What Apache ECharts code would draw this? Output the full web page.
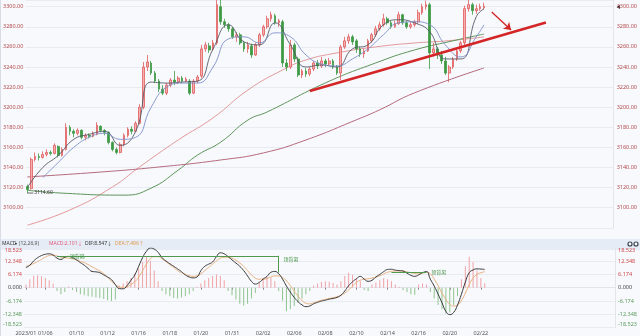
<!DOCTYPE html>
<html><head><meta charset="utf-8">
<script src="https://cdn.jsdelivr.net/npm/echarts@6/dist/echarts.min.js"></script>
<style>html,body{margin:0;padding:0;background:#f8f9fd}#c{width:640px;height:336px}</style>
</head><body><div id="c"></div><script>
// ---- data ----
const totalSlots = 152;
const tickIdx = [0,5,13,21,29,37,45,53,61,69,77,85,93,101,109,117];
const tickLabels = ['2023/01','01/06','01/10','01/12','01/16','01/18','01/20','01/31','02/02','02/06','02/08','02/10','02/14','02/16','02/20','02/22'];

const opens  = [3121,3119,3148,3151,3150,3153,3155,3154,3161,3152,3158,3180,3176,3174,3177,3170,3172,3171,3173,3181,3177,3175,3165,3158,3155,3163,3172,3178,3176,3184,3200,3240,3244,3234,3226,3218,3214,3222,3227,3225,3229,3226,3226,3214,3226,3231,3258,3261,3258,3264,3300,3285,3282,3278,3270,3272,3264,3258,3261,3252,3262,3272,3280,3288,3291,3284,3285,3244,3240,3262,3248,3232,3236,3233,3238,3244,3241,3246,3243,3246,3240,3234,3260,3266,3270,3266,3258,3253,3256,3266,3272,3278,3282,3288,3284,3280,3283,3292,3284,3280,3282,3285,3294,3300,3302,3254,3258,3252,3246,3234,3240,3248,3256,3264,3298,3302,3296,3298,3299];
const closes = [3118,3148,3151,3150,3153,3155,3154,3162,3152,3158,3180,3176,3174,3177,3170,3172,3171,3174,3182,3177,3175,3165,3158,3155,3163,3172,3178,3176,3184,3200,3240,3245,3234,3226,3218,3214,3222,3227,3225,3229,3226,3228,3214,3226,3230,3258,3262,3257,3264,3302,3285,3282,3278,3270,3272,3264,3258,3262,3252,3262,3272,3280,3288,3292,3284,3286,3244,3240,3262,3248,3232,3236,3233,3238,3244,3241,3246,3243,3246,3240,3234,3260,3266,3270,3265,3258,3253,3256,3266,3272,3278,3282,3288,3284,3280,3283,3292,3284,3280,3282,3285,3294,3300,3302,3254,3258,3252,3246,3234,3240,3248,3256,3264,3298,3302,3296,3298,3300,3300.4];
const lows   = [3114.6,3118,3146,3147,3149,3151,3152,3153,3150,3151,3157,3172,3170,3172,3168,3167,3169,3170,3172,3175,3172,3163,3156,3153,3154,3161,3170,3173,3175,3183,3198,3236,3232,3224,3215,3212,3212,3220,3222,3223,3224,3225,3212,3213,3224,3229,3255,3254,3256,3262,3282,3279,3275,3268,3265,3262,3255,3254,3249,3251,3260,3270,3278,3285,3282,3280,3240,3236,3238,3245,3230,3229,3230,3231,3236,3238,3239,3240,3241,3238,3232,3227,3258,3263,3262,3254,3250,3249,3255,3264,3270,3276,3280,3282,3278,3279,3282,3282,3278,3278,3280,3283,3292,3297,3238,3250,3248,3243,3232,3225,3238,3246,3254,3262,3295,3292,3293,3296,3297];
const highs  = [3123,3150,3155,3154,3156,3158,3157,3164,3162,3160,3184,3182,3178,3179,3178,3174,3174,3176,3185,3182,3178,3176,3166,3160,3165,3174,3180,3181,3186,3203,3245,3252,3246,3236,3228,3222,3224,3229,3236,3231,3231,3230,3228,3228,3232,3262,3265,3264,3267,3312,3310,3288,3284,3280,3275,3274,3266,3265,3263,3264,3274,3282,3291,3295,3293,3288,3287,3248,3267,3264,3250,3238,3239,3240,3246,3247,3250,3248,3249,3248,3242,3262,3270,3273,3272,3268,3260,3258,3268,3274,3281,3285,3293,3290,3286,3286,3295,3293,3286,3285,3287,3297,3303,3306,3304,3264,3260,3256,3250,3242,3250,3259,3266,3301,3307,3304,3302,3303,3304];

// moving-average lines: [bar index, value]
const maShort = [[0,3120],[4,3140],[8,3152],[12,3168],[16,3173],[20,3176],[24,3162],[28,3176],[32,3225],[36,3224],[40,3225],[44,3226],[48,3258],[52,3282],[56,3265],[60,3262],[64,3284],[68,3262],[72,3240],[76,3242],[80,3240],[84,3258],[88,3262],[92,3282],[96,3287],[100,3284],[104,3275],[108,3248],[112,3248],[116,3290],[118,3298]];
const maMid = [[4,3130],[8,3145],[12,3160],[16,3170],[20,3174],[24,3168],[28,3170],[32,3200],[36,3220],[40,3224],[44,3224],[48,3240],[52,3268],[56,3270],[60,3264],[64,3274],[68,3270],[72,3252],[76,3243],[80,3241],[84,3248],[88,3258],[92,3272],[96,3284],[100,3285],[104,3282],[108,3262],[112,3250],[116,3270],[118,3282]];
const maPink = [[0,3082.6],[11,3097.7],[22,3120.6],[29,3140.5],[39,3167.4],[48,3189.4],[57,3217.1],[66,3237.1],[72,3247],[80,3254],[90,3260],[100,3263.9],[108,3265.9],[118,3269.9]];
const maGreen = [[0,3117.4],[9,3114.5],[25,3112.5],[32,3119.5],[39,3137.4],[44,3152.4],[50,3165.3],[57,3187.2],[62,3195.3],[77,3224.1],[90,3244],[100,3256.9],[111,3266.9],[118,3272.8]];
const maMauve = [[0,3130.6],[19,3135.5],[34,3140.5],[50,3147.5],[61,3154.5],[72,3167.4],[85,3187.4],[91,3197.3],[100,3214.2],[118,3239]];

const dif = [9.4,10.5,12.5,14,15,15.6,15.8,15.2,13.8,13.2,14.2,14.6,14.0,13.0,11.7,10.5,9.0,7.6,7.4,7.0,6.0,5.0,3.8,1.5,-0.4,-0.5,1.0,3.5,6.0,10,14,17,18.5,18,16.5,14,12.5,11.2,10,8.8,7.5,6.0,5.0,4.6,5.0,8.0,10,11,12,14.5,16.3,15.8,14.5,13,11.5,10,8,5.5,3,1.7,2.5,4,5.3,7.2,7.6,6.5,4,0.8,-2,-4.5,-6.5,-8,-8.8,-8.5,-7.5,-6.8,-6.2,-5.8,-5.3,-5.0,-4.5,-3.5,-1.5,1.0,2.8,4.2,5.3,4.0,3.0,3.5,5.0,6.2,7.5,8.5,8.6,8.2,8.0,7.8,6.8,5.8,5.3,6.0,7.0,7.6,4.0,0.8,-3.0,-7.0,-11.0,-12.5,-11.5,-8.0,-3.0,2.6,7.0,8.3,8.8,8.7,8.547];
const dea = [9.9,10.5,11.3,12.2,13.2,14.3,15.0,15.2,14.8,14.3,14.0,13.8,13.5,13.0,12.3,11.7,10.8,9.8,8.8,7.8,6.5,5.0,3.0,1.5,0.4,0.2,0.5,1.5,2.8,5.0,8.0,11.0,13.5,14.5,14.5,13.5,12.2,10.8,9.5,8.0,7.0,6.2,5.6,5.3,5.6,6.5,8.0,9.5,11.0,12.5,13.8,14.2,14.2,13.8,12.8,11.5,10.0,8.0,6.0,4.5,4.0,4.0,4.3,5.0,5.5,5.5,4.8,3.2,1.0,-1.5,-4.0,-6.0,-7.2,-7.5,-7.0,-6.4,-5.8,-5.4,-5.0,-4.6,-4.2,-3.5,-2.5,-1.0,0.8,2.5,3.5,4.0,4.2,4.5,5.0,5.6,6.4,7.2,7.6,7.8,7.8,7.7,7.4,7.0,6.6,6.5,6.8,7.2,6.5,4.0,1.0,-2.5,-5.5,-7.8,-8.5,-8.0,-6.0,-2.5,1.5,4.5,6.2,7.0,7.496];
const macdHist = [1.5,4.0,5.6,5.8,5.4,4.6,3.5,2.0,-1.5,-3.0,-2.0,0.6,-1.0,-2.0,-3.0,-3.5,-4.0,-4.2,-4.5,-4.8,-5.2,-5.8,-6.2,-5.5,1.0,2.0,3.0,4.5,6.5,9.0,12.0,14.4,12.5,8.0,3.0,-1.5,-3.0,-4.0,-4.8,-5.0,-4.6,-4.0,-3.0,-1.5,0.5,2.0,3.5,4.5,5.5,6.2,5.5,3.5,-1.5,-3.5,-5.5,-7.5,-8.3,-7.5,-5.0,-2.5,2.5,4.5,5.3,4.5,3.0,-1.5,-6.0,-11.0,-10.0,-8.5,-7.0,-5.0,-3.0,-1.5,1.0,2.0,2.7,3.0,2.8,2.2,1.5,3.0,5.5,7.0,6.0,4.5,3.0,-1.0,-1.5,1.5,2.5,3.5,4.4,4.0,3.0,1.5,0.5,-1.0,-2.0,-3.0,-3.3,1.5,2.0,1.5,-2.0,-5.0,-8.0,-10.0,-12.0,-11.5,-8.0,-4.0,4.0,10.0,14.4,12.0,8.0,4.5,2.101];

// annotations
const trendLine = [[73,3216.1],[134,3284.3]];
const trendArrow = [[120,3294.7],[125,3276.8]];
const divergenceLines = [[[8,14.9],[65,14.9]],[[65,14.9],[65,7.0]],[[94,7.2],[103,7.2]]];
const divergenceLabels = [[11,14.9],[66,13.2],[104,7.2]];
const divergenceText = '顶背离';
const lowMark = [0,3114.6];

// ---- build ----
const cats = Array.from({length: totalSlots}, (_, i) => String(i));
const candles = opens.map((o, i) => [o, closes[i], lows[i], highs[i]]);
const FONT = 'Noto Sans, Noto Sans CJK SC, sans-serif';
const tickFn = (idx) => tickIdx.indexOf(idx) >= 0;

const chart = echarts.init(document.getElementById('c'), null, {renderer: 'canvas'});
const priceAxisBase = {
  type: 'value', gridIndex: 0, min: 3080, max: 3306.67, interval: 20, scale: true,
  axisLine: {show: false}, axisTick: {show: false},
  axisLabel: {fontSize: 5.5, color: '#b24a4a', fontFamily: FONT, showMinLabel: false, showMaxLabel: false,
    formatter: v => v.toFixed(2)}
};
const macdAxisBase = {
  type: 'value', gridIndex: 1, min: -18.5226, max: 18.5226, interval: 6.1742,
  axisLine: {show: false}, axisTick: {show: false},
  axisLabel: {fontSize: 5.5, fontFamily: FONT, verticalAlignMaxLabel: 'top', verticalAlignMinLabel: 'bottom',
    formatter: v => Math.abs(v) < 1e-6 ? '0.000' : v.toFixed(3),
    color: v => v > 1e-6 ? '#cc4a4a' : (v < -1e-6 ? '#5a9a5a' : '#444')}
};
const hdr = (x, text, fill, size) => ({type: 'text', x: x, y: 244,
  style: {text: text, fontSize: size || 5, fill: fill, fontFamily: FONT, verticalAlign: 'middle'}});

chart.setOption({
  backgroundColor: '#f8f9fd',
  animation: false,
  grid: [
    {left: 23, right: 20, top: 0, height: 227.8},
    {left: 23, right: 20, top: 248, height: 81}
  ],
  xAxis: [
    {type: 'category', gridIndex: 0, data: cats, boundaryGap: true,
     axisLine: {show: false}, axisTick: {show: false}, axisLabel: {show: false}, splitLine: {show: false}},
    {type: 'category', gridIndex: 1, data: cats, boundaryGap: true,
     axisLine: {show: true, lineStyle: {color: '#e2e5ec'}},
     axisTick: {show: true, interval: tickFn, alignWithLabel: true, length: 2, lineStyle: {color: '#888'}},
     axisLabel: {interval: tickFn, fontSize: 5.5, color: '#555', fontFamily: FONT, margin: 3,
       formatter: (v, idx) => tickLabels[tickIdx.indexOf(Number(v))] || ''},
     splitLine: {show: false}}
  ],
  yAxis: [
    Object.assign({}, priceAxisBase, {position: 'left', axisLabel: Object.assign({}, priceAxisBase.axisLabel, {margin: 2}),
      splitLine: {show: true, lineStyle: {color: '#e8ebf2', width: 1}}}),
    Object.assign({}, priceAxisBase, {position: 'right', axisLine: {show: true, lineStyle: {color: '#e2e5ec'}},
      axisLabel: Object.assign({}, priceAxisBase.axisLabel, {margin: 3}), splitLine: {show: false}}),
    Object.assign({}, macdAxisBase, {position: 'left', axisLabel: Object.assign({}, macdAxisBase.axisLabel, {margin: 2}),
      splitLine: {show: true, lineStyle: {color: '#e8ebf2'}}}),
    Object.assign({}, macdAxisBase, {position: 'right', axisLine: {show: true, lineStyle: {color: '#e2e5ec'}},
      axisLabel: Object.assign({}, macdAxisBase.axisLabel, {margin: 3}), splitLine: {show: false}})
  ],
  series: [
    {type: 'line', xAxisIndex: 0, yAxisIndex: 0, data: maPink, smooth: true, symbol: 'none',
     lineStyle: {color: '#e39a9a', width: 1}, z: 1},
    {type: 'line', xAxisIndex: 0, yAxisIndex: 0, data: maGreen, smooth: true, symbol: 'none',
     lineStyle: {color: '#5e955a', width: 1}, z: 1},
    {type: 'line', xAxisIndex: 0, yAxisIndex: 0, data: maMauve, smooth: true, symbol: 'none',
     lineStyle: {color: '#b56a7c', width: 1}, z: 1},
    {type: 'candlestick', xAxisIndex: 0, yAxisIndex: 0, data: candles, barWidth: 2.2, z: 3,
     itemStyle: {color: '#f5b0b0', color0: '#3e9a45', borderColor: '#e05c5c', borderColor0: '#3e9a45', borderWidth: 0.8},
     markLine: {silent: true, symbol: 'none', animation: false,
       lineStyle: {type: 'solid', color: '#d42626'},
       data: [
         [{coord: trendLine[0], lineStyle: {type: 'solid', color: '#d42626', width: 2.6}}, {coord: trendLine[1]}],
         [{coord: trendArrow[0], symbol: 'none', lineStyle: {type: 'solid', color: '#d42626', width: 1.4}}, {coord: trendArrow[1], symbol: 'arrow', symbolSize: 7}]
       ],
       label: {show: false}},
     markPoint: {silent: true, symbol: 'rect', symbolSize: [6, 0.8], symbolOffset: [3, 0],
       itemStyle: {color: '#444'},
       data: [{coord: lowMark, label: {show: true, position: 'right', distance: 1, formatter: String(lowMark[1].toFixed(2)),
         fontSize: 5, color: '#333', fontFamily: FONT}}]}},
    {type: 'line', xAxisIndex: 0, yAxisIndex: 0, data: maShort, smooth: true, symbol: 'none',
     lineStyle: {color: '#555a66', width: 0.9}, z: 4},
    {type: 'line', xAxisIndex: 0, yAxisIndex: 0, data: maMid, smooth: true, symbol: 'none',
     lineStyle: {color: '#7f90c8', width: 0.9}, z: 4},
    {type: 'bar', xAxisIndex: 1, yAxisIndex: 2, data: macdHist, barWidth: 1,
     itemStyle: {color: p => p.value >= 0 ? '#f0a2a6' : '#8fc48f'}},
    {type: 'line', xAxisIndex: 1, yAxisIndex: 2, data: dea, smooth: true, symbol: 'none',
     lineStyle: {color: '#e8b07a', width: 1}},
    {type: 'line', xAxisIndex: 1, yAxisIndex: 2, data: dif, smooth: true, symbol: 'none',
     lineStyle: {color: '#3a3a3a', width: 1},
     markLine: {silent: true, symbol: 'none', label: {show: false}, lineStyle: {color: '#4f9a4f', width: 1, type: 'solid'},
       data: divergenceLines.map(s => [{coord: s[0]}, {coord: s[1]}])},
     markPoint: {silent: true, symbolSize: 0,
       data: divergenceLabels.map(c => ({coord: c, label: {show: true, position: 'right', distance: 1,
         formatter: divergenceText, fontSize: 5, color: '#3f8f3f', fontFamily: 'Noto Sans CJK SC'}}))}}
  ],
  graphic: [
    {type: 'rect', shape: {x: 0, y: 239, width: 640, height: 11}, style: {fill: '#e6ecf5'}, z: -1, silent: true},
    {type: 'line', shape: {x1: 0.5, y1: 0, x2: 0.5, y2: 336}, style: {stroke: '#d8dce4', lineWidth: 1}, silent: true},
    hdr(2, 'MACD', '#333'),
    hdr(15, '▾', '#333', 4),
    hdr(19, '(12,26,9)', '#555'),
    hdr(49, 'MACD:2.101↓', '#e0587a'),
    hdr(85, 'DIF:8.547↓', '#333'),
    hdr(115, 'DEA:7.496↑', '#e09a4a'),
    {type: 'circle', shape: {cx: 630, cy: 244, r: 2}, style: {fill: '#fff', stroke: '#3a4050', lineWidth: 1.2}},
    {type: 'circle', shape: {cx: 636, cy: 244, r: 2}, style: {fill: '#fff', stroke: '#3a4050', lineWidth: 1.2}},
    {type: 'polygon', shape: {points: [[616.5, 7], [620, 5], [620, 9]]}, style: {fill: '#333'}}
  ]
});
</script></body></html>
